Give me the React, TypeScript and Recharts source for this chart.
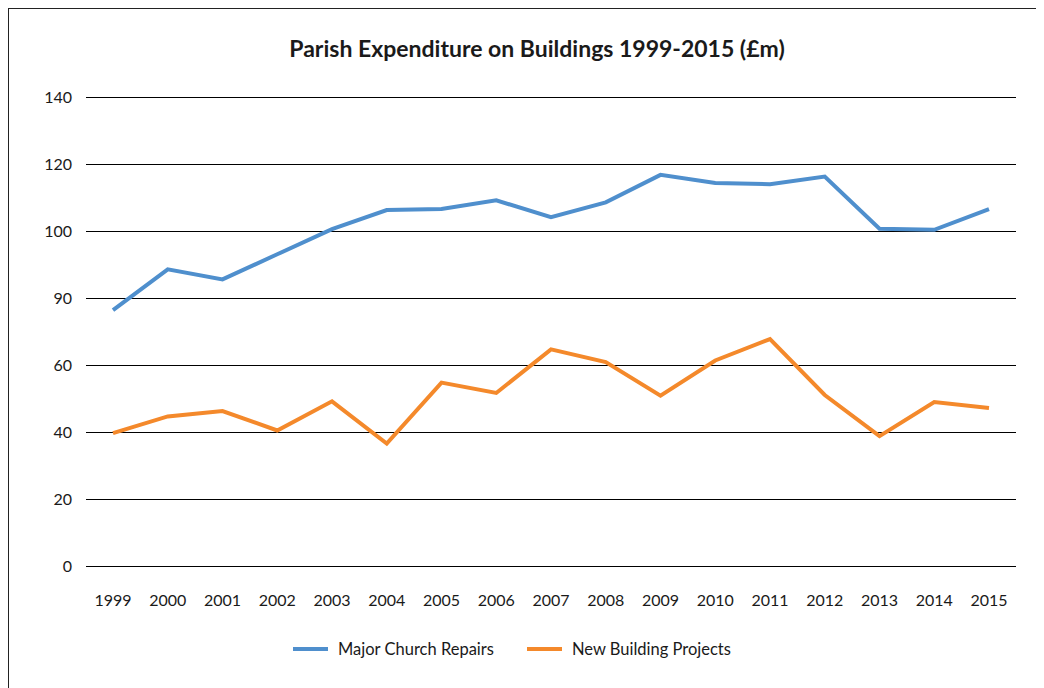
import { CartesianGrid, Line, LineChart, XAxis, YAxis } from "recharts";

const YEARS = [
  "1999", "2000", "2001", "2002", "2003", "2004", "2005", "2006", "2007",
  "2008", "2009", "2010", "2011", "2012", "2013", "2014", "2015",
];

const MAJOR_REPAIRS = [
  76.5, 88.7, 85.7, 93.2, 100.7, 106.4, 106.7, 109.3, 104.3,
  108.7, 116.9, 114.5, 114.1, 116.4, 100.8, 100.5, 106.7,
];

const NEW_BUILDINGS = [
  39.8, 44.8, 46.4, 40.6, 49.3, 36.7, 54.9, 51.8, 64.8,
  61.0, 51.0, 61.5, 67.9, 51.2, 38.9, 49.1, 47.3,
];

// tick positions and the labels printed on the original (it really says 90)
const Y_TICKS = [0, 20, 40, 60, 80, 100, 120, 140];
const Y_TICK_LABELS = ["0", "20", "40", "60", "90", "100", "120", "140"];

const SERIES = [
  { key: "repairs", name: "Major Church Repairs", color: "#4F8FCD" },
  { key: "newBuild", name: "New Building Projects", color: "#F4892B" },
];

const FONT = "Lato, 'Open Sans', sans-serif";

export default function App() {
  const chartData = YEARS.map((year, i) => ({
    year,
    repairs: MAJOR_REPAIRS[i],
    newBuild: NEW_BUILDINGS[i],
  }));

  return (
    <div
      style={{
        position: "relative",
        width: 1036,
        height: 680,
        borderTop: "1px solid #222",
        borderLeft: "1px solid #222",
        boxSizing: "border-box",
        fontFamily: FONT,
        color: "#1a1a1a",
      }}
    >
      <div
        style={{
          position: "absolute",
          top: 28,
          left: 528,
          transform: "translateX(-50%)",
          whiteSpace: "nowrap",
          fontSize: 23,
          lineHeight: "22px",
          fontWeight: 700,
        }}
      >
        Parish Expenditure on Buildings 1999-2015 (£m)
      </div>

      <LineChart
        width={1036}
        height={680}
        data={chartData}
        margin={{ top: 88.5, right: 29, bottom: 0, left: 0 }}
      >
        <CartesianGrid vertical={false} stroke="#000" strokeWidth={1} />
        <XAxis
          dataKey="year"
          axisLine={false}
          tickLine={false}
          tickSize={0}
          tickMargin={28}
          height={122.5}
          interval={0}
          padding={{ left: 27, right: 27 }}
          tick={{ fill: "#1a1a1a", fontSize: 16, fontFamily: FONT }}
        />
        <YAxis
          domain={[0, 140]}
          ticks={Y_TICKS}
          tickFormatter={(v: number) => Y_TICK_LABELS[Y_TICKS.indexOf(v)]}
          axisLine={false}
          tickLine={false}
          tickSize={0}
          tickMargin={14}
          width={77}
          tick={{ fill: "#1a1a1a", fontSize: 16, fontFamily: FONT }}
        />
        {SERIES.map((s) => (
          <Line
            key={s.key}
            type="linear"
            dataKey={s.key}
            name={s.name}
            stroke={s.color}
            strokeWidth={4}
            dot={false}
            activeDot={false}
            isAnimationActive={false}
          />
        ))}
      </LineChart>

      {/* legend */}
      <div
        style={{
          position: "absolute",
          top: 629,
          left: 284,
          display: "flex",
          alignItems: "center",
          fontSize: 16.5,
          lineHeight: "22px",
        }}
      >
        {SERIES.map((s) => (
          <div
            key={`legend-${s.key}`}
            style={{ display: "flex", alignItems: "center", marginRight: 33 }}
          >
            <div
              style={{
                width: 35,
                height: 4,
                backgroundColor: s.color,
                marginRight: 10,
              }}
            />
            <span>{s.name}</span>
          </div>
        ))}
      </div>
    </div>
  );
}
